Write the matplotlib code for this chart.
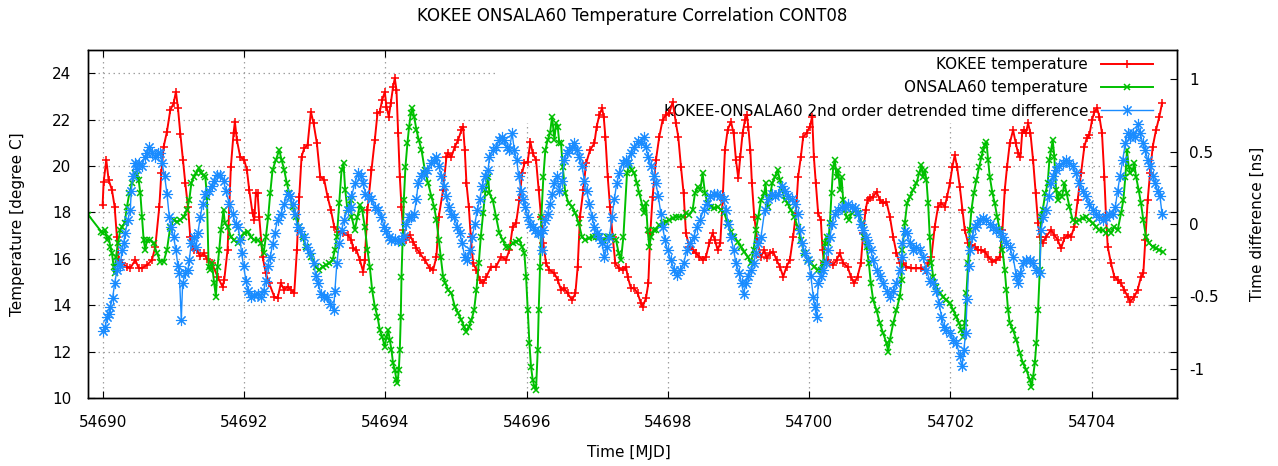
import matplotlib
matplotlib.use("Agg")
import matplotlib.pyplot as plt
from matplotlib.patches import Rectangle

plt.rcParams['font.family'] = ['DejaVu Sans']

title_text = "KOKEE ONSALA60 Temperature Correlation CONT08"
x_label = "Time [MJD]"
y_label = "Temperature [degree C]"
y2_label = "Time difference [ns]"
legend_labels = ["KOKEE temperature", "ONSALA60 temperature",
                 "KOKEE-ONSALA60 2nd order detrended time difference"]
x_ticks = [54690, 54692, 54694, 54696, 54698, 54700, 54702, 54704]
x_tick_labels = ["54690", "54692", "54694", "54696", "54698", "54700", "54702", "54704"]
y_ticks = [10, 12, 14, 16, 18, 20, 22, 24]
y_tick_labels = ["10", "12", "14", "16", "18", "20", "22", "24"]
y2_ticks = [-1, -0.5, 0, 0.5, 1]
y2_tick_labels = ["-1", "-0.5", "0", "0.5", "1"]

# KOKEE temperature [deg C]
kokee_mjd = [
    54689.995, 54690.009, 54690.047, 54690.080, 54690.127, 54690.165, 54690.198, 54690.222, 54690.269, 54690.340,
    54690.387, 54690.458, 54690.505, 54690.552, 54690.623, 54690.694, 54690.741, 54690.798, 54690.826, 54690.859,
    54690.906, 54690.953, 54691.000, 54691.033, 54691.062, 54691.095, 54691.133, 54691.166, 54691.203, 54691.236,
    54691.284, 54691.331, 54691.378, 54691.425, 54691.472, 54691.543,
    54691.622, 54691.693, 54691.717, 54691.764, 54691.811, 54691.849, 54691.868, 54691.896, 54691.943, 54692.000,
    54692.038, 54692.071, 54692.118, 54692.142, 54692.165, 54692.189, 54692.212, 54692.260, 54692.307, 54692.354,
    54692.425, 54692.472, 54692.519, 54692.566, 54692.613, 54692.661, 54692.708, 54692.746, 54692.779, 54692.812,
    54692.849, 54692.897, 54692.944, 54692.982, 54693.029, 54693.076, 54693.133, 54693.180, 54693.227, 54693.274,
    54693.321, 54693.392, 54693.463,
    54693.519, 54693.542, 54693.589, 54693.637, 54693.684, 54693.707, 54693.745, 54693.802, 54693.849, 54693.887,
    54693.920, 54693.953, 54693.991, 54694.014, 54694.047, 54694.075, 54694.108, 54694.132, 54694.156, 54694.179,
    54694.203, 54694.227, 54694.250, 54694.297, 54694.344, 54694.392, 54694.439, 54694.486, 54694.557, 54694.628,
    54694.675, 54694.722, 54694.755, 54694.816, 54694.864, 54694.887, 54694.934, 54694.982, 54695.029, 54695.076,
    54695.100, 54695.123, 54695.147, 54695.180, 54695.208, 54695.241, 54695.288, 54695.336, 54695.383, 54695.430,
    54695.495, 54695.566, 54695.637, 54695.707, 54695.755, 54695.802, 54695.849, 54695.896, 54695.934, 54695.967,
    54696.014, 54696.052, 54696.085, 54696.132, 54696.170, 54696.203, 54696.236, 54696.274, 54696.321, 54696.392,
    54696.439, 54696.486, 54696.533, 54696.580, 54696.642, 54696.689, 54696.722, 54696.755, 54696.802, 54696.840,
    54696.897, 54696.958, 54696.991, 54697.029, 54697.067, 54697.090, 54697.114, 54697.147, 54697.180, 54697.217,
    54697.255, 54697.312, 54697.359, 54697.406,
    54697.429, 54697.476, 54697.523, 54697.571, 54697.618, 54697.641, 54697.689, 54697.722, 54697.750, 54697.783,
    54697.830, 54697.877, 54697.924, 54697.972, 54698.019, 54698.066, 54698.113, 54698.146, 54698.184, 54698.222,
    54698.255, 54698.302, 54698.349, 54698.396, 54698.444, 54698.491, 54698.538, 54698.585, 54698.632, 54698.665,
    54698.703, 54698.741, 54698.774, 54698.807, 54698.845, 54698.892, 54698.930, 54698.963, 54698.996, 54699.024,
    54699.057, 54699.090, 54699.118, 54699.137, 54699.166, 54699.189, 54699.222, 54699.269, 54699.317, 54699.364,
    54699.396, 54699.443, 54699.490, 54699.538, 54699.585, 54699.632, 54699.679, 54699.726, 54699.773, 54699.811,
    54699.844, 54699.882, 54699.915, 54699.962, 54700.009, 54700.042, 54700.066, 54700.094, 54700.127, 54700.165,
    54700.189, 54700.212, 54700.269, 54700.340, 54700.387, 54700.434, 54700.481, 54700.543, 54700.590, 54700.637,
    54700.684, 54700.731, 54700.765, 54700.798, 54700.826, 54700.859, 54700.906, 54700.953, 54701.000, 54701.047,
    54701.094, 54701.142, 54701.189, 54701.236, 54701.283,
    54701.330, 54701.377, 54701.448, 54701.519, 54701.589, 54701.637, 54701.684, 54701.731, 54701.778, 54701.825,
    54701.873, 54701.920, 54701.953, 54701.991, 54702.028, 54702.061, 54702.094, 54702.132, 54702.170, 54702.203,
    54702.250, 54702.297, 54702.344, 54702.392, 54702.439, 54702.486, 54702.533, 54702.595, 54702.651, 54702.698,
    54702.736, 54702.769, 54702.802, 54702.840, 54702.887, 54702.925, 54702.958, 54702.991, 54703.015, 54703.038,
    54703.067, 54703.100, 54703.133, 54703.170, 54703.208, 54703.241, 54703.265,
    54703.306, 54703.353, 54703.424, 54703.471, 54703.519, 54703.566, 54703.613, 54703.660, 54703.707, 54703.755,
    54703.802, 54703.849, 54703.896, 54703.929, 54703.967, 54704.005, 54704.038, 54704.076, 54704.109, 54704.146,
    54704.179, 54704.203, 54704.227, 54704.274, 54704.321, 54704.368, 54704.415, 54704.462, 54704.510, 54704.547,
    54704.604, 54704.651, 54704.698, 54704.731, 54704.759, 54704.793, 54704.826, 54704.864, 54704.911, 54704.958,
    54704.996,
]
kokee_temp = [
    18.3, 19.3, 20.26, 19.4, 18.97, 18.25, 16.95, 15.95, 15.8, 15.66,
    15.6, 15.95, 15.6, 15.6, 15.73, 15.95, 16.52, 18.25, 19.68, 20.83,
    21.48, 22.41, 22.7, 23.2, 22.49, 21.4, 20.26, 19.25, 18.25, 16.95,
    16.38, 16.38, 16.1, 16.24, 16.0, 15.8,
    15.23, 14.8, 15.09, 16.38, 19.97, 21.41, 21.91, 21.12, 20.4, 20.26,
    19.83, 18.97, 17.96, 17.67, 18.82, 18.82, 17.82, 16.09, 15.37, 14.94,
    14.37, 14.3, 14.94, 14.66, 14.8, 14.66, 14.51, 16.38, 18.68, 20.4,
    20.76, 20.9, 22.34, 21.84, 20.98, 19.54, 19.4, 18.68, 18.1, 17.39,
    17.17, 17.13, 17.03,
    16.81, 16.45, 16.38, 15.95, 15.45, 15.95, 18.1, 19.83, 21.12, 22.27,
    22.34, 22.84, 23.2, 22.56, 22.13, 22.7, 23.42, 23.78, 23.28, 21.41,
    19.54, 18.25, 17.24, 16.81, 17.03, 16.74, 16.45, 16.24, 15.95, 15.59,
    15.52, 16.09, 17.82, 18.97, 20.4, 20.55, 20.4, 20.83, 21.12, 21.55,
    21.7, 20.69, 19.25, 18.25, 16.95, 15.8, 15.52, 15.09, 14.94, 15.23,
    15.66, 15.66, 16.09, 15.95, 16.38, 17.39, 17.53, 18.53, 19.68, 20.11,
    20.19, 21.05, 20.55, 20.26, 18.97, 17.82, 16.67, 15.8, 15.52, 15.37,
    15.09, 14.66, 14.73, 14.51, 14.22, 14.51, 15.66, 17.82, 18.97, 20.11,
    20.69, 20.98, 21.7, 22.2, 22.49, 22.13, 21.26, 19.54, 18.25, 16.95,
    15.8, 15.59, 15.52, 15.66,
    15.23, 14.73, 14.73, 14.51, 14.08, 13.94, 14.3, 14.94, 17.1, 18.68,
    20.26, 21.26, 21.98, 22.2, 22.27, 22.77, 21.84, 21.26, 19.97, 18.82,
    17.1, 16.52, 16.38, 16.24, 16.09, 15.95, 16.09, 16.67, 17.1, 16.81,
    16.38, 16.67, 18.53, 20.69, 21.55, 21.91, 21.41, 20.26, 19.47, 20.4,
    21.41, 21.98, 22.2, 21.7, 20.69, 19.25, 17.82, 16.67, 16.09, 16.38,
    16.02, 16.24, 16.31, 15.95, 15.66, 15.23, 15.66, 15.95, 16.95, 17.96,
    19.54, 20.4, 21.26, 21.41, 21.7, 22.13, 20.4, 19.25, 17.96, 17.67,
    16.38, 15.8, 15.95, 15.73, 15.95, 16.24, 15.8, 15.66, 15.23, 14.94,
    15.23, 15.8, 17.1, 18.1, 18.53, 18.61, 18.68, 18.89, 18.53, 18.39,
    18.46, 17.82, 16.95, 16.24, 15.8,
    15.8, 15.66, 15.59, 15.59, 15.59, 15.52, 15.8, 16.09, 17.39, 18.25,
    18.39, 18.25, 18.68, 19.25, 19.97, 20.47, 19.97, 19.11, 18.1, 17.24,
    16.67, 16.6, 16.52, 16.38, 16.38, 16.31, 16.09, 15.88, 15.95, 16.09,
    17.24, 18.97, 19.97, 20.98, 21.55, 20.98, 20.55, 20.4, 21.41, 21.55,
    21.41, 21.84, 21.41, 20.26, 18.82, 17.53, 16.95,
    16.67, 16.95, 17.24, 17.03, 16.81, 16.45, 16.88, 17.03, 16.95, 17.39,
    18.53, 19.68, 20.83, 21.19, 21.34, 21.98, 22.34, 22.49, 22.13, 21.41,
    19.54, 17.82, 16.52, 15.8, 15.23, 15.09, 14.94, 14.66, 14.37, 14.15,
    14.37, 14.66, 15.23, 15.37, 16.81, 18.53, 19.68, 20.83, 21.55, 22.13,
    22.7,
]

# ONSALA60 temperature [deg C]
onsala_mjd = [
    54689.790, 54689.976, 54690.000, 54690.033, 54690.057, 54690.080, 54690.104, 54690.127, 54690.151, 54690.165,
    54690.184, 54690.212, 54690.245, 54690.269, 54690.307, 54690.340, 54690.373, 54690.411, 54690.448, 54690.481,
    54690.505, 54690.529, 54690.552, 54690.576, 54690.599, 54690.623, 54690.670, 54690.717, 54690.765, 54690.812,
    54690.859, 54690.906, 54690.953, 54691.000, 54691.048, 54691.095, 54691.142, 54691.189, 54691.222, 54691.251,
    54691.284, 54691.317, 54691.354, 54691.392, 54691.425, 54691.449, 54691.472, 54691.496, 54691.520, 54691.543,
    54691.575, 54691.599, 54691.622, 54691.646, 54691.670, 54691.707, 54691.726, 54691.764, 54691.811, 54691.858,
    54691.906, 54691.953, 54692.000, 54692.047, 54692.094, 54692.142, 54692.189, 54692.236, 54692.274, 54692.307,
    54692.340, 54692.368, 54692.401, 54692.448, 54692.496, 54692.529, 54692.566, 54692.604, 54692.637, 54692.684,
    54692.731, 54692.779, 54692.826, 54692.873, 54692.944, 54693.015, 54693.062, 54693.109, 54693.156, 54693.203,
    54693.251, 54693.284, 54693.312, 54693.345, 54693.378, 54693.406, 54693.430, 54693.463, 54693.510,
    54693.519, 54693.566, 54693.604, 54693.637, 54693.670, 54693.707, 54693.745, 54693.778, 54693.811, 54693.849,
    54693.887, 54693.920, 54693.953, 54693.991, 54694.014, 54694.038, 54694.061, 54694.085, 54694.108, 54694.132,
    54694.156, 54694.170, 54694.189, 54694.203, 54694.217, 54694.227, 54694.241, 54694.260, 54694.283, 54694.311,
    54694.335, 54694.359, 54694.382, 54694.406, 54694.439, 54694.472, 54694.510, 54694.557, 54694.604, 54694.651,
    54694.689, 54694.722, 54694.755, 54694.783, 54694.816, 54694.849, 54694.887, 54694.934, 54694.982, 54695.029,
    54695.076, 54695.114, 54695.147, 54695.180, 54695.217, 54695.255, 54695.288, 54695.321, 54695.350, 54695.383,
    54695.416, 54695.454,
    54695.471, 54695.519, 54695.566, 54695.613, 54695.660, 54695.707, 54695.755, 54695.802, 54695.849, 54695.896,
    54695.934, 54695.967, 54695.991, 54696.014, 54696.038, 54696.061, 54696.085, 54696.109, 54696.132, 54696.156,
    54696.170, 54696.189, 54696.208, 54696.236, 54696.264, 54696.297, 54696.330, 54696.359, 54696.392, 54696.415,
    54696.439, 54696.462, 54696.486, 54696.510, 54696.547, 54696.595, 54696.642, 54696.689, 54696.736, 54696.783,
    54696.831, 54696.887, 54696.934, 54696.982, 54697.029, 54697.085, 54697.133, 54697.180, 54697.218, 54697.265,
    54697.302, 54697.335, 54697.369,
    54697.420, 54697.453, 54697.486, 54697.523, 54697.561, 54697.594, 54697.641, 54697.665, 54697.689, 54697.712,
    54697.736, 54697.759, 54697.797, 54697.830, 54697.877, 54697.924, 54697.972, 54698.019, 54698.066, 54698.113,
    54698.160, 54698.208, 54698.255, 54698.302, 54698.349, 54698.382, 54698.420, 54698.458, 54698.491, 54698.524,
    54698.562, 54698.609, 54698.656, 54698.703, 54698.750, 54698.798, 54698.845, 54698.892, 54698.939, 54698.986,
    54699.034, 54699.081, 54699.128, 54699.175, 54699.213, 54699.246, 54699.279, 54699.317, 54699.364,
    54699.382, 54699.410, 54699.443, 54699.476, 54699.514, 54699.552, 54699.585, 54699.618, 54699.655, 54699.693,
    54699.740, 54699.788, 54699.835, 54699.882, 54699.929, 54699.976, 54700.024, 54700.071, 54700.118, 54700.165,
    54700.198, 54700.222, 54700.245, 54700.269, 54700.293, 54700.316, 54700.340, 54700.363, 54700.387, 54700.411,
    54700.434, 54700.458, 54700.481, 54700.505, 54700.529, 54700.562, 54700.599, 54700.647, 54700.694, 54700.741,
    54700.779, 54700.812, 54700.845, 54700.873, 54700.906, 54700.953, 54701.000, 54701.048, 54701.095, 54701.118,
    54701.142, 54701.189, 54701.236, 54701.283, 54701.307,
    54701.320, 54701.353, 54701.387, 54701.424, 54701.471, 54701.519, 54701.556, 54701.589, 54701.613, 54701.637,
    54701.660, 54701.684, 54701.707, 54701.731, 54701.755, 54701.802, 54701.849, 54701.896, 54701.943, 54701.991,
    54702.038, 54702.085, 54702.123, 54702.156, 54702.179, 54702.203, 54702.227, 54702.250, 54702.274, 54702.297,
    54702.330, 54702.368, 54702.406, 54702.439, 54702.462, 54702.486, 54702.510, 54702.533, 54702.557, 54702.595,
    54702.628, 54702.661, 54702.698, 54702.736, 54702.769, 54702.793, 54702.816, 54702.840, 54702.887, 54702.934,
    54702.982, 54703.029, 54703.076, 54703.123, 54703.147, 54703.170, 54703.194, 54703.217, 54703.241, 54703.265,
    54703.283, 54703.306, 54703.344, 54703.377, 54703.401, 54703.424, 54703.448, 54703.471, 54703.495, 54703.519,
    54703.542, 54703.580, 54703.613, 54703.646, 54703.684, 54703.731, 54703.778, 54703.825, 54703.873, 54703.920,
    54703.967, 54704.014, 54704.061, 54704.109, 54704.156, 54704.203, 54704.241, 54704.274, 54704.321, 54704.368,
    54704.415, 54704.448, 54704.477, 54704.500, 54704.524, 54704.547, 54704.580, 54704.604, 54704.628, 54704.665,
    54704.698, 54704.731, 54704.769, 54704.816, 54704.864, 54704.911, 54704.958, 54705.005,
]
onsala_temp = [
    17.9, 17.17, 17.1, 17.24, 16.81, 16.95, 16.52, 16.24, 15.66, 15.37,
    16.09, 16.67, 17.24, 17.39, 17.53, 18.25, 18.82, 19.25, 19.68, 19.61,
    19.4, 18.82, 17.82, 16.81, 16.38, 16.81, 16.81, 16.67, 16.24, 15.88,
    15.88, 16.38, 17.39, 17.67, 17.6, 17.67, 17.82, 18.1, 18.53, 19.25,
    19.54, 19.68, 19.9, 19.68, 19.61, 19.54, 18.68, 15.66, 15.52, 15.8,
    14.94, 14.37, 15.66, 16.38, 17.24, 18.1, 17.53, 17.39, 16.95, 16.81,
    16.67, 16.95, 17.1, 17.17, 16.95, 16.81, 16.81, 16.67, 16.24, 16.95,
    17.82, 18.82, 19.83, 20.26, 20.69, 20.26, 19.83, 19.25, 18.82, 18.25,
    17.82, 17.39, 16.95, 16.52, 16.09, 15.66, 15.52, 15.66, 15.73, 15.8,
    15.95, 16.38, 16.95, 18.39, 19.83, 20.11, 18.97, 18.1, 18.53,
    17.82, 17.24, 17.82, 18.32, 18.1, 17.39, 16.38, 15.66, 14.66, 13.94,
    13.51, 12.93, 12.64, 12.21, 12.64, 12.93, 12.5, 12.07, 11.49, 11.21,
    10.78, 10.63, 11.21, 12.07, 13.51, 15.23, 16.67, 18.53, 19.97, 20.98,
    21.7, 22.27, 22.49, 22.13, 21.55, 21.12, 20.69, 19.83, 19.25, 18.68,
    18.25, 17.67, 16.81, 16.09, 15.23, 14.94, 14.66, 14.51, 13.94, 13.65,
    13.36, 13.07, 12.86, 13.07, 13.36, 13.79, 14.66, 15.8, 16.95, 17.96,
    18.97, 19.54,
    18.82, 18.53, 17.82, 17.1, 16.81, 16.52, 16.52, 16.67, 16.74, 16.81,
    16.52, 16.24, 15.23, 13.79, 12.36, 11.35, 10.78, 10.49, 10.34, 12.07,
    13.79, 15.66, 17.82, 19.54, 20.69, 21.12, 21.41, 22.13, 21.12, 21.84,
    21.7, 20.98, 20.98, 19.97, 18.82, 18.39, 18.25, 17.96, 17.53, 16.95,
    16.81, 16.88, 16.95, 16.95, 16.95, 16.81, 16.95, 16.95, 16.95, 16.81,
    16.24, 15.95, 16.95,
    19.68, 20.11, 19.83, 19.68, 19.25, 18.82, 18.25, 17.96, 18.39, 17.24,
    16.52, 16.95, 17.24, 17.24, 17.46, 17.53, 17.6, 17.67, 17.74, 17.82,
    17.82, 17.82, 17.96, 17.89, 18.1, 18.82, 19.11, 18.97, 19.68, 18.82,
    18.39, 18.25, 18.18, 18.25, 18.1, 17.96, 17.53, 17.17, 16.95, 16.74,
    16.52, 16.31, 16.09, 15.8, 16.38, 17.24, 17.82, 18.53, 18.82,
    19.25, 18.25, 18.68, 19.25, 19.54, 19.83, 19.4, 18.97, 18.53, 18.39,
    18.1, 17.82, 17.39, 16.81, 16.24, 15.95, 15.8, 15.66, 15.52, 15.52,
    15.8, 16.67, 16.95, 16.67, 17.53, 18.82, 19.97, 20.26, 19.54, 19.83,
    18.97, 19.54, 18.53, 18.1, 17.82, 17.67, 17.96, 18.1, 17.96, 17.53,
    16.95, 16.52, 15.8, 14.94, 14.22, 13.79, 13.22, 12.79, 12.36, 12.0,
    12.5, 13.22, 13.79, 14.37, 15.09,
    16.38, 17.53, 18.39, 18.68, 18.97, 19.25, 19.68, 20.04, 19.54, 19.83,
    19.4, 18.39, 16.95, 15.8, 15.23, 14.8, 14.51, 14.37, 14.22, 14.08,
    13.79, 13.51, 13.22, 12.93, 12.64, 13.22, 14.51, 15.8, 17.24, 18.1,
    18.82, 19.4, 19.97, 20.4, 20.69, 20.9, 21.05, 20.26, 19.54, 18.82,
    18.39, 17.82, 17.24, 16.38, 15.52, 14.66, 13.79, 13.22, 12.93, 12.5,
    11.93, 11.49, 11.21, 10.78, 10.49, 10.92, 11.49, 12.36, 13.79, 15.52,
    17.82, 18.1, 18.82, 19.25, 20.26, 20.69, 21.12, 20.4, 18.97, 18.53,
    18.82, 18.68, 19.25, 18.82, 18.25, 17.67, 17.6, 17.67, 17.74, 17.82,
    17.67, 17.53, 17.39, 17.24, 17.24, 17.1, 17.24, 17.1, 17.39, 17.24,
    17.96, 18.53, 19.54, 20.69, 19.97, 19.68, 19.83, 20.11, 19.54, 18.97,
    18.39, 17.67, 16.95, 16.67, 16.52, 16.45, 16.38, 16.31,
]

# KOKEE-ONSALA60 detrended time difference [ns]
diff_mjd = [
    54689.995, 54690.033, 54690.057, 54690.080, 54690.104, 54690.137, 54690.165, 54690.198, 54690.222, 54690.245,
    54690.269, 54690.293, 54690.316, 54690.354, 54690.387, 54690.401, 54690.420, 54690.448, 54690.481, 54690.505,
    54690.552, 54690.590, 54690.623, 54690.656, 54690.694, 54690.741, 54690.779, 54690.812, 54690.835, 54690.873,
    54690.906, 54690.939, 54690.967, 54691.000, 54691.033, 54691.062, 54691.081, 54691.109, 54691.128, 54691.166,
    54691.203, 54691.222, 54691.251, 54691.284, 54691.317, 54691.345, 54691.378, 54691.411, 54691.449, 54691.496,
    54691.543,
    54691.575, 54691.613, 54691.660, 54691.707, 54691.740, 54691.788, 54691.835, 54691.882, 54691.915, 54691.943,
    54691.962, 54691.991, 54692.024, 54692.057, 54692.094, 54692.142, 54692.189, 54692.236, 54692.274, 54692.307,
    54692.330, 54692.368, 54692.401, 54692.434, 54692.472, 54692.519, 54692.566, 54692.613, 54692.651, 54692.684,
    54692.717, 54692.755, 54692.793, 54692.840, 54692.887, 54692.934, 54692.982, 54693.015, 54693.048, 54693.085,
    54693.133, 54693.170, 54693.218, 54693.265, 54693.284, 54693.312, 54693.345, 54693.378, 54693.416, 54693.463,
    54693.510,
    54693.519, 54693.566, 54693.613, 54693.651, 54693.684, 54693.717, 54693.755, 54693.802, 54693.849, 54693.896,
    54693.943, 54693.981, 54694.014, 54694.047, 54694.085, 54694.132, 54694.179, 54694.227, 54694.264, 54694.297,
    54694.330, 54694.368, 54694.406, 54694.439, 54694.462, 54694.500, 54694.547, 54694.595, 54694.642, 54694.689,
    54694.722, 54694.755, 54694.793, 54694.831, 54694.864, 54694.897, 54694.934, 54694.972, 54695.019, 54695.052,
    54695.085, 54695.123, 54695.161, 54695.194, 54695.227, 54695.265, 54695.302, 54695.336, 54695.369, 54695.406,
    54695.454,
    54695.471, 54695.519, 54695.566, 54695.613, 54695.651, 54695.684, 54695.717, 54695.755, 54695.792, 54695.825,
    54695.858, 54695.887, 54695.920, 54695.953, 54695.981, 54696.014, 54696.047, 54696.085, 54696.123, 54696.156,
    54696.189, 54696.217, 54696.236, 54696.264, 54696.297, 54696.330, 54696.359, 54696.392, 54696.425, 54696.462,
    54696.500, 54696.533, 54696.566, 54696.604, 54696.642, 54696.675, 54696.708, 54696.746, 54696.783, 54696.816,
    54696.849, 54696.887, 54696.925, 54696.958, 54696.991, 54697.029, 54697.067, 54697.100, 54697.133, 54697.170,
    54697.208, 54697.241, 54697.274, 54697.312, 54697.359, 54697.406,
    54697.429, 54697.476, 54697.523, 54697.571, 54697.618, 54697.656, 54697.689, 54697.722, 54697.759, 54697.797,
    54697.830, 54697.863, 54697.901, 54697.924, 54697.958, 54697.995, 54698.042, 54698.090, 54698.127, 54698.175,
    54698.222, 54698.269, 54698.316, 54698.363, 54698.411, 54698.458, 54698.505, 54698.552, 54698.599, 54698.647,
    54698.694, 54698.741, 54698.788, 54698.821, 54698.854, 54698.892, 54698.930, 54698.963, 54699.010, 54699.043,
    54699.071, 54699.104, 54699.137, 54699.175, 54699.213, 54699.246, 54699.279, 54699.317,
    54699.372, 54699.420, 54699.467, 54699.514, 54699.561, 54699.608, 54699.655, 54699.703, 54699.750, 54699.797,
    54699.835, 54699.868, 54699.901, 54699.939, 54699.986, 54700.024, 54700.057, 54700.080, 54700.104, 54700.127,
    54700.165, 54700.198, 54700.231, 54700.260, 54700.293, 54700.326, 54700.363, 54700.411, 54700.458, 54700.505,
    54700.552, 54700.599, 54700.647, 54700.694, 54700.731, 54700.765, 54700.798, 54700.835, 54700.873, 54700.906,
    54700.953, 54701.000, 54701.048, 54701.095, 54701.142, 54701.189, 54701.236, 54701.283, 54701.307,
    54701.320, 54701.353, 54701.387, 54701.424, 54701.471, 54701.519, 54701.566, 54701.613, 54701.660, 54701.707,
    54701.755, 54701.802, 54701.840, 54701.873, 54701.906, 54701.943, 54701.991, 54702.038, 54702.085, 54702.132,
    54702.165, 54702.189, 54702.217, 54702.236, 54702.260, 54702.283, 54702.311, 54702.344, 54702.378, 54702.415,
    54702.462, 54702.510, 54702.557, 54702.604, 54702.651, 54702.698, 54702.746, 54702.793, 54702.840, 54702.887,
    54702.934, 54702.963, 54702.991, 54703.029, 54703.076, 54703.123, 54703.170, 54703.217, 54703.265,
    54703.283, 54703.316, 54703.353, 54703.391, 54703.424, 54703.457, 54703.495, 54703.542, 54703.589, 54703.637,
    54703.684, 54703.731, 54703.778, 54703.825, 54703.873, 54703.920, 54703.967, 54704.014, 54704.061, 54704.109,
    54704.156, 54704.203, 54704.250, 54704.297, 54704.335, 54704.368, 54704.401, 54704.439, 54704.477, 54704.510,
    54704.543, 54704.580, 54704.618, 54704.651, 54704.684, 54704.722, 54704.760, 54704.793, 54704.826, 54704.864,
    54704.901, 54704.934, 54704.967, 54704.996,
]
diff_ns = [
    -0.74, -0.71, -0.64, -0.62, -0.57, -0.51, -0.41, -0.32, -0.27, -0.29,
    -0.18, -0.13, -0.06, 0.03, 0.10, 0.23, 0.33, 0.42, 0.38, 0.42,
    0.40, 0.46, 0.49, 0.53, 0.49, 0.46, 0.49, 0.49, 0.42, 0.33,
    0.21, 0.05, -0.02, -0.09, -0.18, -0.29, -0.34, -0.66, -0.41, -0.34,
    -0.32, -0.25, -0.13, -0.09, -0.16, -0.06, 0.05, 0.14, 0.21, 0.23,
    0.26,
    0.30, 0.34, 0.34, 0.30, 0.23, 0.14, 0.07, 0.0, -0.02, -0.11,
    -0.20, -0.29, -0.39, -0.46, -0.50, -0.49, -0.48, -0.50, -0.46, -0.39,
    -0.29, -0.23, -0.14, -0.06, 0.03, 0.07, 0.14, 0.21, 0.19, 0.14,
    0.07, -0.02, -0.05, -0.09, -0.16, -0.20, -0.27, -0.36, -0.41, -0.48,
    -0.50, -0.50, -0.55, -0.59, -0.46, -0.27, -0.13, -0.04, 0.03, 0.10,
    0.12,
    0.19, 0.28, 0.35, 0.33, 0.28, 0.21, 0.19, 0.17, 0.12, 0.10,
    0.05, -0.02, -0.05, -0.09, -0.11, -0.10, -0.12, -0.11, -0.08, 0.0,
    0.05, 0.05, 0.07, 0.17, 0.28, 0.33, 0.35, 0.37, 0.42, 0.44,
    0.46, 0.40, 0.33, 0.26, 0.19, 0.12, 0.07, 0.05, -0.02, -0.06,
    -0.13, -0.23, -0.25, -0.18, -0.09, 0.0, 0.10, 0.17, 0.26, 0.33,
    0.37,
    0.46, 0.51, 0.53, 0.58, 0.60, 0.58, 0.53, 0.51, 0.63, 0.51,
    0.44, 0.33, 0.23, 0.17, 0.12, 0.05, 0.0, -0.02, -0.04, -0.06,
    -0.06, -0.18, -0.04, 0.03, 0.07, 0.14, 0.21, 0.28, 0.33, 0.23,
    0.30, 0.44, 0.49, 0.51, 0.53, 0.56, 0.51, 0.46, 0.40, 0.30,
    0.23, 0.14, 0.05, -0.02, -0.06, -0.09, -0.13, -0.23, -0.16, -0.09,
    0.05, 0.17, 0.28, 0.35, 0.42, 0.44,
    0.42, 0.49, 0.53, 0.57, 0.56, 0.60, 0.53, 0.46, 0.40, 0.33,
    0.28, 0.19, 0.07, -0.02, -0.11, -0.18, -0.25, -0.32, -0.35, -0.32,
    -0.27, -0.18, -0.13, -0.09, -0.02, 0.03, 0.10, 0.14, 0.19, 0.21,
    0.21, 0.19, 0.17, 0.10, 0.0, -0.09, -0.18, -0.27, -0.34, -0.41,
    -0.48, -0.41, -0.36, -0.32, -0.27, -0.20, -0.13, -0.09,
    0.10, 0.17, 0.21, 0.19, 0.21, 0.26, 0.23, 0.19, 0.17, 0.14,
    0.07, -0.04, -0.13, -0.20, -0.25, -0.36, -0.50, -0.57, -0.64, -0.41,
    -0.36, -0.32, -0.27, -0.18, -0.09, 0.0, 0.07, 0.10, 0.12, 0.12,
    0.14, 0.12, 0.11, 0.07, 0.0, -0.04, -0.09, -0.13, -0.18, -0.25,
    -0.32, -0.36, -0.41, -0.46, -0.50, -0.46, -0.41, -0.32, -0.23,
    -0.13, -0.05, -0.06, -0.13, -0.18, -0.16, -0.18, -0.23, -0.32, -0.39,
    -0.41, -0.46, -0.55, -0.64, -0.71, -0.73, -0.75, -0.80, -0.82, -0.91,
    -0.98, -0.87, -0.75, -0.52, -0.29, -0.18, -0.09, -0.02, 0.0, 0.03,
    0.04, 0.03, 0.0, -0.02, -0.04, -0.06, -0.09, -0.13, -0.16, -0.23,
    -0.36, -0.41, -0.34, -0.27, -0.25, -0.25, -0.27, -0.32, -0.34,
    -0.04, 0.05, 0.10, 0.19, 0.28, 0.33, 0.37, 0.40, 0.42, 0.44,
    0.42, 0.40, 0.35, 0.28, 0.23, 0.19, 0.14, 0.10, 0.07, 0.05,
    0.03, 0.05, 0.07, 0.07, 0.12, 0.23, 0.33, 0.44, 0.56, 0.63,
    0.60, 0.63, 0.60, 0.69, 0.63, 0.56, 0.51, 0.44, 0.40, 0.33,
    0.28, 0.23, 0.19, 0.07,
]

x_range = (54689.788, 54705.208)
y_range = (10, 25)
y2_range = (-1.2, 1.2)

# ---------------------------------------------------------------- layout
W, H = 1278, 466
fig = plt.figure(figsize=(W / 100, H / 100), dpi=100)
L, R, T, B = 88, 1177, 50, 398
ax = fig.add_axes([L / W, 1 - B / H, (R - L) / W, (B - T) / H])
ax2 = ax.twinx()

RED, GREEN, BLUE = '#ff0000', '#00c000', '#1a8cff'

def pair(a, b):
    n = min(len(a), len(b))
    return a[:n], b[:n]

kx, ky = pair(kokee_mjd, kokee_temp)
ox, oy = pair(onsala_mjd, onsala_temp)
dx, dy = pair(diff_mjd, diff_ns)

l1, = ax.plot(kx, ky, color=RED, lw=1.4, marker='+', ms=5.5, mew=1.1, zorder=3)
l2, = ax.plot(ox, oy, color=GREEN, lw=1.4, marker='x', ms=4, mew=1.1, zorder=3.1)
l3, = ax2.plot(dx, dy, color=BLUE, lw=1.0, marker=(8, 2, 0), ms=8, mew=0.8, zorder=3)

ax.set_xlim(*x_range)
ax.set_ylim(*y_range)
ax2.set_ylim(*y2_range)

ax.set_xticks(x_ticks)
ax.set_xticklabels(x_tick_labels)
ax.set_yticks(y_ticks)
ax.set_yticklabels(y_tick_labels)
ax2.set_yticks(y2_ticks)
ax2.set_yticklabels(y2_tick_labels)

ax.set_axisbelow(True)
ax.grid(True, color='#a0a0a0', linestyle=(0, (1.2, 2.8)), linewidth=0.9)

# blank area behind the key (as in the original)
ax.add_patch(Rectangle((0.3765, 0.79), 0.6235, 0.21, transform=ax.transAxes,
                       facecolor='white', edgecolor='none', zorder=1.5))

ax.tick_params(axis='both', direction='in', length=5, width=0.8, top=True, right=True,
               labelsize=11, colors='black')
ax.tick_params(axis='x', pad=12)
ax.tick_params(axis='y', pad=12, labelright=False)
ax2.tick_params(axis='y', direction='in', length=5, width=0.8, labelsize=11, pad=9)
for a in (ax, ax2):
    for s in a.spines.values():
        s.set_linewidth(1.0)
        s.set_color('black')

leg = ax.legend([l1, l2, l3], legend_labels, loc='upper right',
                bbox_to_anchor=((1153 - L) / (R - L), 1 - 7 / (B - T)),
                frameon=False, markerfirst=False, handlelength=3.4, handletextpad=0.85,
                labelspacing=0.55, borderpad=0, borderaxespad=0, fontsize=11, numpoints=1)
leg.set_zorder(2)

fig.text(632.5 / W, 1 - 16 / H, title_text, ha='center', va='center', fontsize=12)
fig.text(629 / W, 1 - 453 / H, x_label, ha='center', va='center', fontsize=11)
fig.text(18 / W, 1 - 224 / H, y_label, rotation=90, ha='center', va='center', fontsize=11)
fig.text(1257 / W, 1 - 224 / H, y2_label, rotation=90, ha='center', va='center', fontsize=11)

fig.savefig('out.png', dpi=100)
